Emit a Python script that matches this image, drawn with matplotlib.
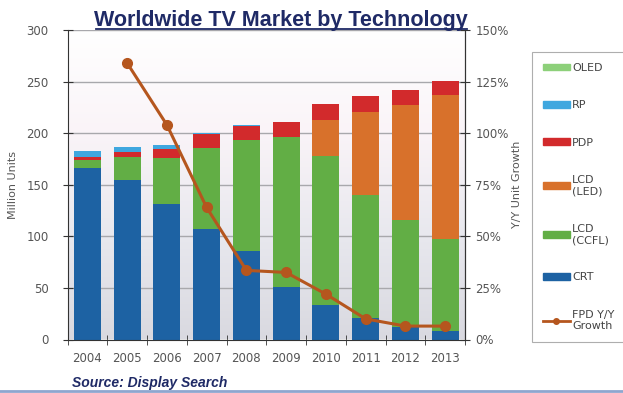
import numpy as np
import matplotlib
matplotlib.use('Agg')
import matplotlib.pyplot as plt
from matplotlib.patches import Patch
from matplotlib.lines import Line2D
from matplotlib.colors import LinearSegmentedColormap

years = ['2004', '2005', '2006', '2007', '2008', '2009', '2010', '2011', '2012', '2013']

# million units per technology, stacked bottom to top
crt = [166, 155, 131, 107, 86, 51, 33, 21, 12, 8]
lcd_ccfl = [8, 22, 45, 79, 107, 145, 145, 119, 104, 89]
lcd_led = [0, 0, 0, 0, 0, 0, 35, 81, 111, 140]
pdp = [3, 5, 9, 13, 14, 15, 15, 15, 15, 14]
rp = [6, 5, 4, 1, 1, 0, 0, 0, 0, 0]
oled = [0, 0, 0, 0, 0, 0, 0, 0, 0, 0]

growth_years = years[1:]
fpd_growth = [134, 104, 64, 33.5, 32.5, 22, 10, 6.5, 6.5]

series = [
    ('CRT', crt, '#1d62a3'),
    ('LCD\n(CCFL)', lcd_ccfl, '#62ae45'),
    ('LCD\n(LED)', lcd_led, '#d8712b'),
    ('PDP', pdp, '#d22a2c'),
    ('RP', rp, '#3fa7df'),
    ('OLED', oled, '#8dd07a'),
]
line_color = '#b5561e'
tick_color = '#555555'
navy = '#1f2a66'

plt.rcParams['font.family'] = ['DejaVu Sans']

fig = plt.figure(figsize=(6.23, 3.93), dpi=100)
ax = fig.add_axes([67.5 / 623, 1 - 339.5 / 393, (465 - 67.5) / 623, (339.5 - 30) / 393])

x = np.arange(len(years))

# soft background: white at the top fading to pale grey near the baseline
bg = LinearSegmentedColormap.from_list('bg', ['#d9d9e0', '#e8e8ee', '#faf4f8', '#ffffff'])
grad = np.linspace(0, 1, 256).reshape(-1, 1)
ax.imshow(grad, cmap=bg, origin='lower', aspect='auto',
          extent=(-0.5, len(years) - 0.5, 0, 300), zorder=0)

bottom = np.zeros(len(years))
for label, vals, color in series:
    vals = np.array(vals, dtype=float)
    ax.bar(x, vals, width=0.68, bottom=bottom, color=color, zorder=2)
    bottom += vals

ax.set_xlim(-0.5, len(years) - 0.5)
ax.set_ylim(0, 300)
ax.set_yticks(range(0, 301, 50))
ax.set_xticks(x)
ax.set_xticklabels(years)
ax.set_xticks(np.arange(-0.5, len(years), 1.0), minor=True)
ax.tick_params(axis='x', which='major', length=0, pad=9, labelsize=8.5, labelcolor=tick_color)
ax.tick_params(axis='x', which='minor', direction='inout', length=7, color='#333333')
ax.tick_params(axis='y', direction='inout', length=7, color='#333333', labelsize=8.5,
               labelcolor=tick_color, pad=10)
ax.grid(axis='y', color='#a8a8ac', linewidth=1.0, zorder=1)
ax.set_axisbelow(True)
ax.spines['top'].set_visible(False)
for side in ['left', 'right', 'bottom']:
    ax.spines[side].set_color('#333333')
ax.set_ylabel('Million Units', fontsize=8, color=tick_color, labelpad=6)

ax2 = ax.twinx()
ax2.set_ylim(0, 150)
ax2.set_yticks(range(0, 151, 25))
ax2.set_yticklabels(['%d%%' % v for v in range(0, 151, 25)])
ax2.tick_params(axis='y', direction='inout', length=7, color='#333333', labelsize=8.5,
                labelcolor=tick_color, pad=4)
for side in ['top', 'left', 'bottom']:
    ax2.spines[side].set_visible(False)
ax2.spines['right'].set_color('#333333')
ax2.plot(x[1:], fpd_growth, color=line_color, linewidth=2.2, marker='o',
         markersize=7, zorder=5)
ax2.set_ylabel('Y/Y Unit Growth', fontsize=8, color=tick_color, labelpad=2)

handles = [Patch(color=c) for _, _, c in series[::-1]]
labels = [lab for lab, _, _ in series[::-1]]
handles.append(Line2D([], [], color=line_color, linewidth=2, marker='o', markersize=4))
labels.append('FPD Y/Y\nGrowth')
leg = fig.legend(handles, labels, loc='upper left', bbox_to_anchor=(532 / 623, 1 - 52 / 393),
                 fontsize=8, frameon=True, fancybox=False, labelspacing=2.45,
                 handlelength=2.4, handleheight=0.5, handletextpad=0.2,
                 borderpad=1.0, borderaxespad=0)
leg.get_frame().set_edgecolor('#9a9a9a')
leg.get_frame().set_linewidth(0.8)
for t in leg.get_texts():
    t.set_color('#444444')

fig.text(281 / 623, 1 - 26 / 393, 'Worldwide TV Market by Technology',
         family='Liberation Sans', fontsize=15.5, fontweight='bold', color=navy,
         ha='center', va='baseline')
fig.add_artist(Line2D([96 / 623, 467 / 623], [1 - 29 / 393, 1 - 29 / 393],
                      color=navy, linewidth=1.3))

fig.text(72 / 623, 1 - 383 / 393, 'Source: Display Search', family='Liberation Sans',
         fontsize=10, fontweight='bold', style='italic', color=navy, ha='left', va='center')
fig.add_artist(Line2D([0, 1], [1 - 391 / 393, 1 - 391 / 393], color='#8ea6cf', linewidth=2))

fig.savefig('out.png', dpi=100)
